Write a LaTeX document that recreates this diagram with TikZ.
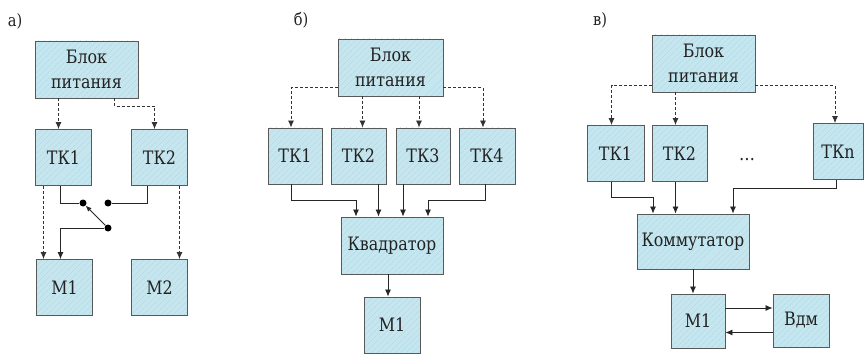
\documentclass[tikz,border=0pt]{standalone}
\usepackage{fontspec}
\setmainfont{DejaVu Serif}[FakeStretch=0.86]
\usetikzlibrary{arrows.meta,calc,patterns.meta}
\definecolor{boxCyan}{HTML}{C6E6EF}
\definecolor{hatchCyan}{HTML}{ABD7E4}
\definecolor{inkGray}{HTML}{222222}
\tikzset{
  >={Latex[length=7pt,width=6pt]},
  every node/.style={font=\fontsize{18.5}{25}\selectfont, text=inkGray},
  unit/.style={draw=black!65, line width=0.9pt, preaction={fill=boxCyan},
    pattern={Lines[angle=45,distance=4pt,line width=0.4pt]}, pattern color=hatchCyan,
    inner sep=1pt, align=center, minimum width=56pt, minimum height=56pt},
  wideunit/.style={unit, minimum width=103pt, minimum height=57pt},
  pwr/.style={->, draw=black!80, line width=0.8pt, dash pattern=on 3pt off 2pt},
  sig/.style={draw=black!85, line width=0.8pt},
  contact/.style={circle, fill=black, minimum size=7pt, inner sep=0pt},
  tag/.style={font=\fontsize{17}{20}\selectfont},
}
\begin{document}
\begin{tikzpicture}[x=1pt,y=-1pt]
  \useasboundingbox (0,0) rectangle (864,358);

  % panel a
  \node[tag] (tagA) at (15,21) {а)};
  \node[wideunit] (pwrA) at (86.5,69.5) {Блок\\питания};
  \node[unit] (tkA1) at (63.5,157.5) {ТК1};
  \node[unit] (tkA2) at (159.5,157.5) {ТК2};
  \node[unit] (mA1) at (64.5,287.5) {М1};
  \node[unit] (mA2) at (159.5,287.5) {М2};
  \node[contact] (swA) at (83,203) {};
  \node[contact] (swB) at (108,203) {};
  \node[contact] (swC) at (108,228) {};

  \draw[pwr] ([xshift=-5pt]tkA1.north |- pwrA.south) -- ([xshift=-5pt]tkA1.north);
  \draw[pwr] ([xshift=28pt]pwrA.south) -- ++(0,-8pt) -| ([xshift=-5pt]tkA2.north);
  \draw[pwr] ([xshift=-20pt]tkA1.south) -- ([xshift=-21pt]mA1.north);
  \draw[pwr] ([xshift=20pt]tkA2.south) -- ([xshift=20pt]mA2.north);
  \draw[sig] ([xshift=-3pt]tkA1.south) |- (swA);
  \draw[sig] ([xshift=-12pt]tkA2.south) |- (swB);
  \draw[sig, -{Latex[length=6pt,width=5pt]}] (swC) -- (swA);
  \draw[sig, ->] (swC) -| ([xshift=-4pt]mA1.north);

  % panel b
  \node[tag] (tagB) at (301,20) {б)};
  \node[wideunit, minimum width=105pt] (pwrB) at (390.5,67.5) {Блок\\питания};
  \node[unit, minimum width=54pt] (tkB1) at (295,156) {ТК1};
  \node[unit, minimum width=55pt] (tkB2) at (358.5,156) {ТК2};
  \node[unit, minimum width=54pt] (tkB3) at (423,156) {ТК3};
  \node[unit] (tkB4) at (487,156) {ТК4};
  \node[wideunit, minimum width=102pt] (kvB) at (392,245.5) {Квадратор};
  \node[unit] (mB1) at (392,325) {М1};

  \draw[pwr] ([yshift=9pt]pwrB.south west) -| ([xshift=-4pt]tkB1.north);
  \draw[pwr] ([xshift=4pt]tkB2.north |- pwrB.south) -- ([xshift=4pt]tkB2.north);
  \draw[pwr] ([xshift=-4pt]tkB3.north |- pwrB.south) -- ([xshift=-4pt]tkB3.north);
  \draw[pwr] ([yshift=9pt]pwrB.south east) -| ([xshift=-4pt]tkB4.north);
  \draw[sig, ->] ([xshift=-4pt]tkB1.south) -- ++(0,-16pt) -| ([xshift=-36pt]kvB.north);
  \draw[sig, ->] ([xshift=20pt]tkB2.south) -- ([xshift=20pt]tkB2.south |- kvB.north);
  \draw[sig, ->] ([xshift=-20pt]tkB3.south) -- ([xshift=-20pt]tkB3.south |- kvB.north);
  \draw[sig, ->] ([xshift=-2pt]tkB4.south) -- ++(0,-16pt) -| ([xshift=36pt]kvB.north);
  \draw[sig, ->] ([xshift=-4pt]kvB.south) -- ([xshift=-4pt]mB1.north);

  % panel c
  \node[tag] (tagC) at (600,20) {в)};
  \node[wideunit] (pwrC) at (703.5,63.5) {Блок\\питания};
  \node[unit, minimum width=57pt] (tkC1) at (615.5,153.5) {ТК1};
  \node[unit, minimum width=55pt] (tkC2) at (679.5,153.5) {ТК2};
  \node (gapC) at (747,160) {\dots};
  \node[unit, minimum width=50pt] (tkCn) at (838,151.5) {ТКn};
  \node[wideunit, minimum width=112pt, minimum height=55pt] (kmC) at (693,241.5) {Коммутатор};
  \node[unit, minimum width=54pt, minimum height=54pt] (mC1) at (698,321) {М1};
  \node[unit, minimum height=53pt] (vdmC) at (801,320.5) {Вдм};

  \draw[pwr] ([yshift=7pt]pwrC.south west) -| ([xshift=-4pt]tkC1.north);
  \draw[pwr] ([xshift=-4pt]tkC2.north |- pwrC.south) -- ([xshift=-4pt]tkC2.north);
  \draw[pwr] ([yshift=7pt]pwrC.south east) -| ([xshift=-3pt]tkCn.north);
  \draw[sig, ->] ([xshift=-4pt]tkC1.south) -- ++(0,-15pt) -| ([xshift=-40pt]kmC.north);
  \draw[sig, ->] ([xshift=-4pt]tkC2.south) -- ([xshift=-4pt]tkC2.south |- kmC.north);
  \draw[sig, ->] ([xshift=-2pt]tkCn.south) -- ++(0,-8pt) -| ([xshift=40pt]kmC.north);
  \draw[sig, ->] (kmC.south) -- (kmC.south |- mC1.north);
  \draw[sig, ->] ([yshift=13pt]mC1.east) -- ([yshift=13pt]mC1.east -| vdmC.west);
  \draw[sig, ->] ([yshift=-12pt]vdmC.west) -- ([yshift=-12pt]vdmC.west -| mC1.east);
\end{tikzpicture}
\end{document}
